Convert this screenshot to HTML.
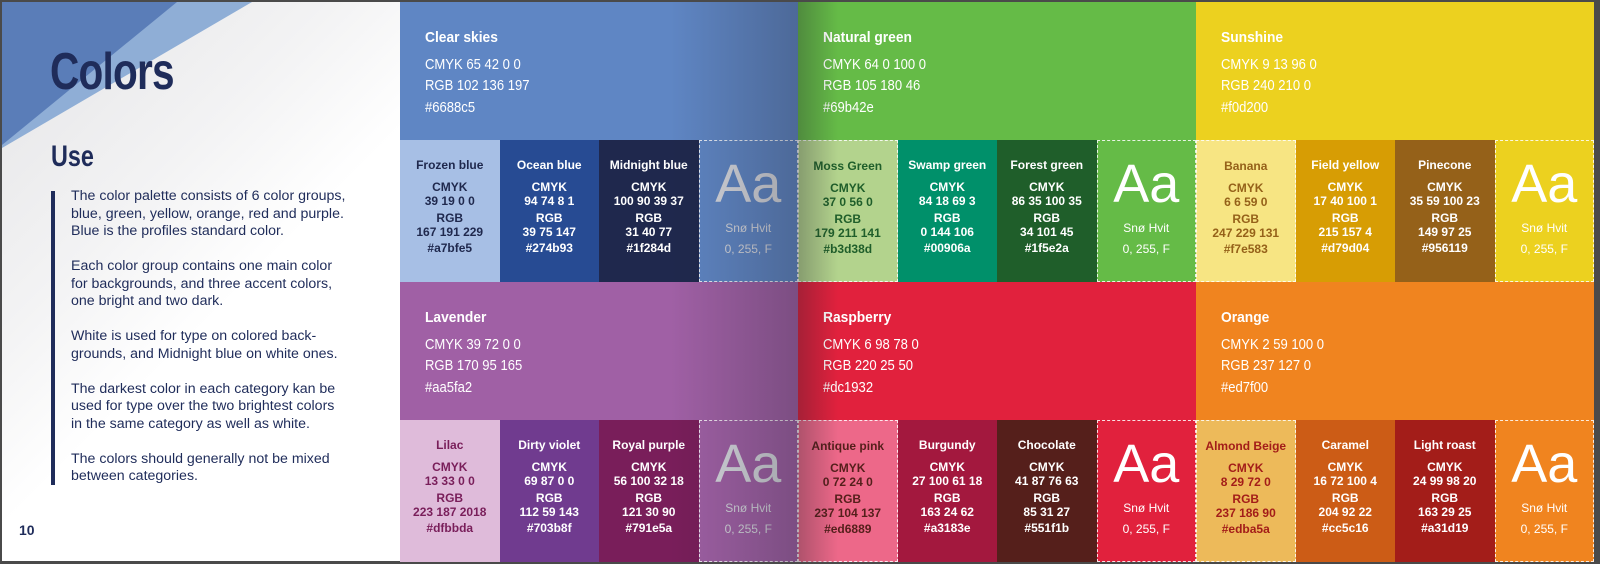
<!DOCTYPE html>
<html><head><meta charset="utf-8">
<style>
*{margin:0;padding:0;box-sizing:border-box}
body{width:1600px;height:564px;position:relative;overflow:hidden;background:#4a4a4a;font-family:"Liberation Sans",sans-serif}
#left{position:absolute;left:2px;top:2px;width:398px;height:559px;background:linear-gradient(135deg,#e4e4e6 0%,#f3f3f4 35%,#fff 55%);overflow:hidden}
#grid{position:absolute;left:400px;top:2px;width:1194px;height:559px}
.col{position:absolute;top:0;width:398px}
.main{position:absolute;left:0;width:398px;height:138px;color:#fff}
.main .t{position:absolute;left:25px;top:27px;font-size:15px;font-weight:bold;transform:scaleX(.92);transform-origin:left}
.main .l{position:absolute;left:25px;font-size:14.5px;transform:scaleX(.9);transform-origin:left}
.acc{position:absolute;width:99.5px;height:142px;text-align:center;font-size:12px;font-weight:bold}
.acc div{position:absolute;left:0;right:0;line-height:14px}
.dash{border:1px dashed rgba(255,255,255,.85)}
.aa{font-size:54px!important;font-weight:normal!important;line-height:54px!important}
.sh{position:absolute;pointer-events:none}
.p{font-size:14.2px;color:#1f2c5a;line-height:17.5px;margin-bottom:17.5px}
</style></head><body>
<div id="left">
<svg width="398" height="559" style="position:absolute;left:0;top:0">
<polygon points="0,0 250,0 0,146" fill="#8faed6"/>
<polygon points="0,0 175,0 0,143" fill="#5a7db8"/>
</svg>
<div style="position:absolute;left:48px;top:40px;font-size:52px;font-weight:bold;color:#1f2c5a;transform:scaleX(.78);transform-origin:left;letter-spacing:-1px">Colors</div>
<div style="position:absolute;left:49px;top:138px;font-size:30px;font-weight:bold;color:#1f2c5a;transform:scaleX(.78);transform-origin:left">Use</div>
<div style="position:absolute;left:49px;top:189px;width:4px;height:025px;height:025px;height:025px;height:025px;height:025px;height:025px;height:025px;height:025px;height:025px;height:025px;height:025px;height:025px;height:025px;height:025px;height:025px;height:025px;height:025px;height:025px;height:025px;height:025px;height:025px;height:025px;height:025px;height:025px;height:025px;height:025px;height:025px;height:025px;height:025px;height:025px;height:025px;height:025px;height:025px;height:025px;height:294px;background:#1f2c5a"></div>
<div style="position:absolute;left:69px;top:186px;width:330px">
<p class="p">The color palette consists of 6 color groups,<br>blue, green, yellow, orange, red and purple.<br>Blue is the profiles standard color.</p>
<p class="p">Each color group contains one main color<br>for backgrounds, and three accent colors,<br>one bright and two dark.</p>
<p class="p">White is used for type on colored back-<br>grounds, and Midnight blue on white ones.</p>
<p class="p">The darkest color in each category kan be<br>used for type over the two brightest colors<br>in the same category as well as white.</p>
<p class="p">The colors should generally not be mixed<br>between categories.</p>
</div>
<div style="position:absolute;left:17px;top:520px;font-size:14px;font-weight:bold;color:#1f2c5a">10</div>
</div>
<div id="grid"></div>
<script>
const groupNames=["Clear skies","Natural green","Sunshine","Lavender","Raspberry","Orange"];
const groupCmyk=["65 42 0 0","64 0 100 0","9 13 96 0","39 72 0 0","6 98 78 0","2 59 100 0"];
const groupRgb=["102 136 197","105 180 46","240 210 0","170 95 165","220 25 50","237 127 0"];
const groupHex=["#6688c5","#69b42e","#f0d200","#aa5fa2","#dc1932","#ed7f00"];
const groupShow=["#5f86c4","#65bb47","#ecd11f","#a060a5","#e1213d","#f0841f"];
const accNames=[["Frozen blue","Ocean blue","Midnight blue"],["Moss Green","Swamp green","Forest green"],["Banana","Field yellow","Pinecone"],["Lilac","Dirty violet","Royal purple"],["Antique pink","Burgundy","Chocolate"],["Almond Beige","Caramel","Light roast"]];
const accCmyk=[["39 19 0 0","94 74 8 1","100 90 39 37"],["37 0 56 0","84 18 69 3","86 35 100 35"],["6 6 59 0","17 40 100 1","35 59 100 23"],["13 33 0 0","69 87 0 0","56 100 32 18"],["0 72 24 0","27 100 61 18","41 87 76 63"],["8 29 72 0","16 72 100 4","24 99 98 20"]];
const accRgb=[["167 191 229","39 75 147","31 40 77"],["179 211 141","0 144 106","34 101 45"],["247 229 131","215 157 4","149 97 25"],["223 187 2018","112 59 143","121 30 90"],["237 104 137","163 24 62","85 31 27"],["237 186 90","204 92 22","163 29 25"]];
const accHex=[["#a7bfe5","#274b93","#1f284d"],["#b3d38d","#00906a","#1f5e2a"],["#f7e583","#d79d04","#956119"],["#dfbbda","#703b8f","#791e5a"],["#ed6889","#a3183e","#551f1b"],["#edba5a","#cc5c16","#a31d19"]];
const accText=[["#1f284d","#fff","#fff"],["#1f5e2a","#fff","#fff"],["#956119","#fff","#fff"],["#791e5a","#fff","#fff"],["#551f1b","#fff","#fff"],["#a31d19","#fff","#fff"]];
const grid=document.getElementById('grid');
for(let g=0;g<6;g++){
  const cx=(g%3)*398, cy=Math.floor(g/3)*280;
  const m=document.createElement('div');
  m.className='main';
  
  
  m.style.left=cx+'px';m.style.top=cy+'px';m.style.background=groupShow[g];
  m.innerHTML='<div class="t">'+groupNames[g]+'</div><div class="l" style="top:55px">CMYK '+groupCmyk[g]+'</div><div class="l" style="top:76px">RGB '+groupRgb[g]+'</div><div class="l" style="top:98px">'+groupHex[g]+'</div>';
  grid.appendChild(m);
  for(let a=0;a<4;a++){
    const c=document.createElement('div');
    c.className='acc'+((a==0&&g!=0&&g!=3)||a==3?' dash':'');
    c.style.left=(cx+a*99.5)+'px';c.style.top=(cy+138)+'px';
    if(a<3){
      
      
      c.style.background=accHex[g][a];c.style.color=accText[g][a];
      c.innerHTML='<div style="top:18px">'+accNames[g][a]+'</div><div style="top:40px">CMYK<br>'+accCmyk[g][a]+'</div><div style="top:71px">RGB<br>'+accRgb[g][a]+'</div><div style="top:101px">'+accHex[g][a]+'</div>';
    }else{
      
      
      c.style.background=groupShow[g];c.style.color=(g%3==0)?'#d6d8de':'#fff';
      c.innerHTML='<div class="aa" style="top:16px">Aa</div><div style="top:80px;font-weight:normal">Snø Hvit</div><div style="top:101px;font-weight:normal">0, 255, F</div>';
    }
    grid.appendChild(c);
  }
}
for(let r=0;r<2;r++){
  const s1=document.createElement('div');s1.className='sh';
  
  
  s1.style.cssText+='left:270px;top:'+(r*280)+'px;width:128px;height:280px;background:linear-gradient(90deg,rgba(30,30,40,0),rgba(30,30,40,.28))';
  grid.appendChild(s1);
  const s2=document.createElement('div');s2.className='sh';
  
  
  s2.style.cssText+='left:398px;top:'+(r*280)+'px;width:40px;height:280px;background:linear-gradient(90deg,rgba(30,30,40,.3),rgba(30,30,40,0))';
  grid.appendChild(s2);
}
</script>
</body></html>
